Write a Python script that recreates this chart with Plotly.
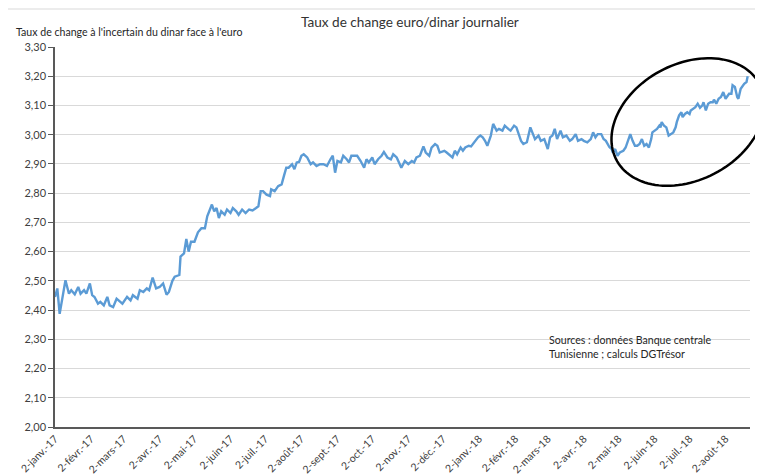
import numpy as np
import plotly.graph_objects as go

dates = [
    "2017-01-02","2017-01-04","2017-01-06","2017-01-09","2017-01-11","2017-01-14","2017-01-16","2017-01-19",
    "2017-01-22","2017-01-24","2017-01-27","2017-01-29","2017-02-01","2017-02-03","2017-02-05","2017-02-08",
    "2017-02-10","2017-02-13","2017-02-16","2017-02-18","2017-02-21","2017-02-24","2017-02-27","2017-03-01",
    "2017-03-05","2017-03-08","2017-03-10","2017-03-14","2017-03-16","2017-03-19","2017-03-22","2017-03-24",
    "2017-03-27","2017-03-30","2017-04-02","2017-04-05","2017-04-08","2017-04-10","2017-04-13","2017-04-15",
    "2017-04-19","2017-04-20","2017-04-23","2017-04-25","2017-04-27","2017-04-29","2017-05-02","2017-05-05",
    "2017-05-08","2017-05-11","2017-05-13","2017-05-15","2017-05-17","2017-05-19","2017-05-21","2017-05-23",
    "2017-05-25","2017-05-28","2017-05-30","2017-06-02","2017-06-04","2017-06-07","2017-06-09","2017-06-12",
    "2017-06-15","2017-06-18","2017-06-21","2017-06-24","2017-06-26","2017-06-28","2017-06-30","2017-07-03",
    "2017-07-06","2017-07-07","2017-07-10","2017-07-13","2017-07-16","2017-07-18","2017-07-20","2017-07-22",
    "2017-07-25","2017-07-27","2017-07-29","2017-07-31","2017-08-02","2017-08-04","2017-08-07","2017-08-10",
    "2017-08-12","2017-08-15","2017-08-18","2017-08-21","2017-08-24","2017-08-27","2017-08-29","2017-08-31",
    "2017-09-02","2017-09-05","2017-09-07","2017-09-10","2017-09-12","2017-09-14","2017-09-16","2017-09-19",
    "2017-09-22","2017-09-25","2017-09-27","2017-09-29","2017-10-02","2017-10-04","2017-10-07","2017-10-10",
    "2017-10-12","2017-10-15","2017-10-18","2017-10-20","2017-10-23","2017-10-25","2017-10-27","2017-10-30",
    "2017-11-02","2017-11-05","2017-11-07","2017-11-09","2017-11-12","2017-11-15","2017-11-17","2017-11-20",
    "2017-11-22","2017-11-25","2017-11-27","2017-11-29","2017-12-03","2017-12-05","2017-12-08","2017-12-10",
    "2017-12-12","2017-12-14","2017-12-17","2017-12-19","2017-12-21","2017-12-24","2017-12-26","2017-12-29",
    "2018-01-01","2018-01-03","2018-01-05","2018-01-07","2018-01-09","2018-01-12","2018-01-14","2018-01-17",
    "2018-01-19","2018-01-22","2018-01-24","2018-01-27","2018-01-29","2018-02-01","2018-02-03","2018-02-05",
    "2018-02-07","2018-02-09","2018-02-12","2018-02-15","2018-02-17","2018-02-19","2018-02-22","2018-02-24",
    "2018-02-27","2018-03-02","2018-03-04","2018-03-06","2018-03-08","2018-03-10","2018-03-13","2018-03-15",
    "2018-03-18","2018-03-21","2018-03-23","2018-03-26","2018-03-28","2018-03-31","2018-04-02","2018-04-05",
    "2018-04-08","2018-04-10","2018-04-12","2018-04-14","2018-04-17","2018-04-19","2018-04-21","2018-04-24",
    "2018-04-26","2018-04-27","2018-04-29","2018-05-01","2018-05-03","2018-05-06","2018-05-08","2018-05-10",
    "2018-05-12","2018-05-14","2018-05-16","2018-05-18","2018-05-20","2018-05-22","2018-05-24","2018-05-26",
    "2018-05-28","2018-05-30","2018-05-31","2018-06-02","2018-06-04","2018-06-06","2018-06-07","2018-06-08",
    "2018-06-10","2018-06-12","2018-06-14","2018-06-16","2018-06-18","2018-06-20","2018-06-21","2018-06-23",
    "2018-06-25","2018-06-26","2018-06-28","2018-06-30","2018-07-02","2018-07-03","2018-07-05","2018-07-07",
    "2018-07-09","2018-07-11","2018-07-13","2018-07-14","2018-07-16","2018-07-18","2018-07-20","2018-07-22",
    "2018-07-23","2018-07-25","2018-07-27","2018-07-29","2018-07-31","2018-08-01","2018-08-02","2018-08-05",
    "2018-08-07","2018-08-08","2018-08-10","2018-08-12","2018-08-13","2018-08-15","2018-08-17","2018-08-18",
    "2018-08-20","2018-08-21",
]

rates = [
    2.445,2.474,2.387,2.451,2.502,2.456,2.468,2.454,
    2.479,2.456,2.468,2.456,2.491,2.451,2.445,2.422,
    2.428,2.416,2.445,2.416,2.410,2.439,2.428,2.422,
    2.445,2.433,2.451,2.439,2.468,2.462,2.474,2.468,
    2.511,2.474,2.479,2.491,2.453,2.462,2.500,2.514,
    2.520,2.583,2.594,2.643,2.600,2.634,2.634,2.666,
    2.680,2.680,2.721,2.744,2.761,2.738,2.749,2.715,
    2.738,2.726,2.744,2.732,2.749,2.738,2.726,2.744,
    2.732,2.744,2.741,2.749,2.755,2.807,2.807,2.795,
    2.790,2.813,2.807,2.824,2.830,2.859,2.887,2.887,
    2.899,2.882,2.905,2.907,2.928,2.933,2.922,2.899,
    2.905,2.893,2.899,2.899,2.893,2.916,2.928,2.870,
    2.910,2.905,2.928,2.916,2.905,2.928,2.928,2.928,
    2.910,2.887,2.916,2.905,2.922,2.899,2.916,2.928,
    2.941,2.922,2.916,2.933,2.922,2.905,2.887,2.910,
    2.899,2.910,2.905,2.922,2.928,2.960,2.939,2.928,
    2.956,2.968,2.962,2.939,2.945,2.939,2.928,2.922,
    2.945,2.933,2.956,2.945,2.956,2.962,2.960,2.976,
    2.991,2.997,2.991,2.979,2.962,2.997,3.037,3.014,
    3.020,3.014,3.031,3.020,3.014,3.031,3.025,3.002,
    2.979,2.968,2.974,3.025,3.002,2.985,2.997,2.979,
    2.985,2.951,2.991,2.997,3.020,2.985,3.014,2.991,
    2.997,2.979,2.985,3.002,2.979,2.985,2.979,2.974,
    2.985,3.008,2.991,3.002,3.002,2.985,2.979,2.958,
    2.951,2.939,2.951,2.928,2.939,2.945,2.956,2.979,
    3.002,2.979,2.962,2.962,2.968,2.985,2.962,2.968,
    2.956,2.985,3.008,3.014,3.020,3.031,3.025,3.043,
    3.031,3.025,2.997,3.002,3.008,3.025,3.043,3.066,
    3.077,3.060,3.071,3.077,3.071,3.083,3.089,3.094,
    3.106,3.092,3.100,3.111,3.083,3.106,3.111,3.111,
    3.120,3.106,3.123,3.129,3.146,3.134,3.123,3.140,
    3.140,3.169,3.163,3.129,3.123,3.157,3.169,3.174,
    3.180,3.200,
]

tick_dates = [
    "2017-01-02","2017-02-02","2017-03-02","2017-04-02","2017-05-02","2017-06-02","2017-07-02",
    "2017-08-02","2017-09-02","2017-10-02","2017-11-02","2017-12-02","2018-01-02","2018-02-02",
    "2018-03-02","2018-04-02","2018-05-02","2018-06-02","2018-07-02","2018-08-02",
]
tick_labels = [
    "2-janv.-17","2-févr.-17","2-mars-17","2-avr.-17","2-mai-17","2-juin-17","2-juil.-17",
    "2-août-17","2-sept.-17","2-oct.-17","2-nov.-17","2-déc.-17","2-janv.-18","2-févr.-18",
    "2-mars-18","2-avr.-18","2-mai-18","2-juin-18","2-juil.-18","2-août-18",
]

# page is 763x476; the browser body has an 8px margin, so the figure is offset
OFF = 8
W, H = 763 - OFF, 476 - OFF
# plot area in page pixels: x 55..750, y 47..427
L, R, T, B = 55 - OFF, 763 - 750, 47 - OFF, 476 - 427
pw, ph = W - L - R, H - T - B

def px_to_paper(x, y):
    """page pixel -> paper coordinate"""
    return (x - OFF - L) / pw, (H - B - (y - OFF)) / ph

FONT = "Lato, Carlito, Calibri, sans-serif"

fig = go.Figure()
fig.add_trace(go.Scatter(
    x=dates, y=rates, mode="lines",
    line=dict(color="#5B9BD5", width=2.4),
    hoverinfo="x+y", showlegend=False,
))

# highlight ellipse (tilted), drawn in paper coordinates
cx, cy, a, b, th = 688, 122, 81, 58, np.deg2rad(28)
t = np.linspace(0, 2 * np.pi, 120)
ex = cx + a * np.cos(t) * np.cos(th) + b * np.sin(t) * np.sin(th)
ey = cy - a * np.cos(t) * np.sin(th) + b * np.sin(t) * np.cos(th)
pts = [px_to_paper(x, y) for x, y in zip(ex, ey)]
path = "M " + " L ".join(f"{p[0]:.5f},{p[1]:.5f}" for p in pts) + " Z"

bx0, by0 = px_to_paper(5, 9)
bx1, by1 = px_to_paper(775, 490)

fig.update_layout(
    width=W, height=H,
    margin=dict(l=L, r=R, t=T, b=B, autoexpand=False),
    paper_bgcolor="white", plot_bgcolor="white",
    separators=", ",
    font=dict(family=FONT, size=11, color="#404040"),
    shapes=[
        dict(type="rect", xref="paper", yref="paper", x0=bx0, y0=by0, x1=bx1, y1=by1,
             line=dict(color="#d9d9d9", width=1), layer="below"),
        dict(type="path", xref="paper", yref="paper", path=path,
             line=dict(color="black", width=2.5)),
    ],
    annotations=[
        dict(text="Taux de change euro/dinar journalier", xref="paper", yref="paper",
             x=px_to_paper(410, 0)[0], y=px_to_paper(0, 22)[1], xanchor="center", yanchor="middle",
             showarrow=False, font=dict(family=FONT, size=13.6, color="#333333")),
        dict(text="Taux de change à l'incertain du dinar face à l'euro", xref="paper", yref="paper",
             x=px_to_paper(14, 0)[0], y=px_to_paper(0, 32)[1], xanchor="left", yanchor="middle",
             showarrow=False, font=dict(family=FONT, size=10.6, color="#262626")),
        dict(text="Sources : données Banque centrale<br>Tunisienne ; calculs DGTrésor",
             xref="paper", yref="paper", align="left",
             x=px_to_paper(547, 0)[0], y=px_to_paper(0, 347)[1], xanchor="left", yanchor="middle",
             showarrow=False, font=dict(family=FONT, size=10.6, color="#262626")),
    ],
)

fig.update_xaxes(
    type="date", range=["2017-01-02", "2018-08-23"], automargin=False,
    tickvals=tick_dates, ticktext=tick_labels, tickangle=-45,
    showgrid=False, showline=True, linecolor="#595959", linewidth=1.5,
    ticks="", tickfont=dict(size=10.5, color="#404040"), zeroline=False,
)
fig.update_yaxes(
    range=[2.0, 3.3], dtick=0.1, tick0=2.0, tickformat=".2f", automargin=False,
    showgrid=True, gridcolor="#d9d9d9", gridwidth=1,
    showline=True, linecolor="#595959", linewidth=1.5,
    ticks="outside", ticklen=5, tickcolor="#595959",
    tickfont=dict(size=11, color="#404040"), zeroline=False,
)

fig.write_html("out.html")
